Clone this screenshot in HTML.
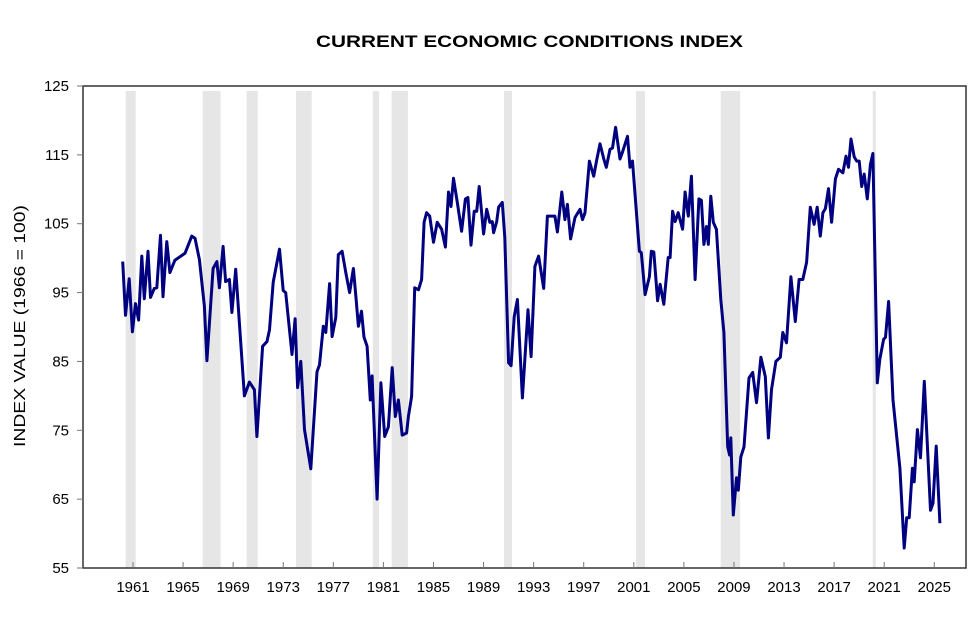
<!DOCTYPE html>
<html><head><meta charset="utf-8"><style>
body{margin:0;background:#fff;width:978px;height:616px;overflow:hidden;font-family:"Liberation Sans",Arial,sans-serif}
</style></head><body>
<svg id="chart" width="978" height="616" xmlns="http://www.w3.org/2000/svg" font-family="Liberation Sans, Arial, sans-serif">
<text x="529.5" y="47" text-anchor="middle" font-size="17" font-weight="bold" textLength="427" lengthAdjust="spacingAndGlyphs">CURRENT ECONOMIC CONDITIONS INDEX</text>
<text transform="translate(25,326) rotate(-90)" text-anchor="middle" font-size="16" textLength="242" lengthAdjust="spacingAndGlyphs">INDEX VALUE (1966 = 100)</text>
<g id="bands"></g><g id="axes"></g><g id="series"></g>
</svg>
<script>
const recStart=[1960.42,1966.57,1970.08,1974.02,1980.15,1981.66,1990.63,2001.18,2007.94,2020.08];
const recEnd=[1961.22,1968.0,1970.96,1975.27,1980.65,1982.96,1991.27,2001.9,2009.5,2020.34];
const yTicks=[55,65,75,85,95,105,115,125];
const xTickYears=[1961,1965,1969,1973,1977,1981,1985,1989,1993,1997,2001,2005,2009,2013,2017,2021,2025];
const years=[1960.18,1960.4,1960.7,1960.95,1961.2,1961.45,1961.7,1961.9,1962.2,1962.4,1962.7,1962.9,1963.2,1963.4,1963.7,1963.95,1964.35,1965.15,1965.7,1965.95,1966.3,1966.7,1966.9,1967.4,1967.7,1967.9,1968.2,1968.4,1968.7,1968.9,1969.2,1969.9,1970.3,1970.7,1970.9,1971.35,1971.7,1971.9,1972.2,1972.7,1973.0,1973.2,1973.7,1973.95,1974.15,1974.4,1974.7,1975.2,1975.7,1975.9,1976.2,1976.4,1976.7,1976.9,1977.2,1977.4,1977.7,1978.0,1978.3,1978.6,1978.8,1979.0,1979.25,1979.45,1979.7,1979.95,1980.1,1980.5,1980.8,1981.1,1981.4,1981.7,1981.95,1982.2,1982.5,1982.85,1983.0,1983.25,1983.5,1983.8,1984.05,1984.25,1984.45,1984.7,1985.0,1985.3,1985.65,1985.95,1986.2,1986.4,1986.6,1986.9,1987.25,1987.55,1987.75,1988.0,1988.25,1988.45,1988.65,1989.0,1989.25,1989.5,1989.7,1989.8,1990.05,1990.2,1990.5,1990.7,1991.0,1991.2,1991.45,1991.7,1992.1,1992.55,1992.8,1993.1,1993.4,1993.8,1994.1,1994.4,1994.7,1994.9,1995.25,1995.5,1995.7,1995.95,1996.3,1996.7,1996.9,1997.1,1997.45,1997.8,1998.05,1998.3,1998.6,1998.8,1999.1,1999.3,1999.55,1999.9,2000.1,2000.5,2000.7,2000.9,2001.45,2001.6,2001.9,2002.25,2002.4,2002.6,2002.9,2003.1,2003.4,2003.75,2003.9,2004.1,2004.3,2004.55,2004.9,2005.1,2005.35,2005.6,2005.9,2006.2,2006.4,2006.6,2006.8,2006.95,2007.15,2007.35,2007.6,2007.95,2008.2,2008.5,2008.65,2008.75,2008.95,2009.2,2009.35,2009.55,2009.8,2010.2,2010.5,2010.8,2011.15,2011.5,2011.75,2012.0,2012.35,2012.7,2012.9,2013.2,2013.55,2013.9,2014.2,2014.5,2014.8,2015.1,2015.4,2015.65,2015.9,2016.1,2016.3,2016.55,2016.8,2017.1,2017.35,2017.7,2017.95,2018.15,2018.35,2018.6,2018.8,2019.0,2019.2,2019.4,2019.65,2019.9,2020.1,2020.45,2020.65,2020.95,2021.1,2021.35,2021.7,2022.25,2022.6,2022.8,2023.0,2023.25,2023.4,2023.65,2023.9,2024.2,2024.7,2024.9,2025.15,2025.45];
const values=[99.5,91.7,97.0,89.3,93.4,91.0,100.3,94.1,101.0,94.3,95.6,95.7,103.3,94.4,102.4,97.9,99.7,100.7,103.2,102.9,99.8,93.0,85.1,98.5,99.5,95.7,101.7,96.6,96.9,92.1,98.4,80.0,82.0,80.9,74.1,87.2,87.9,89.6,96.5,101.3,95.3,95.0,86.0,91.2,81.2,85.0,75.1,69.4,83.5,84.5,90.1,89.2,96.3,88.6,91.4,100.5,101.0,97.9,95.0,98.5,94.4,90.1,92.3,88.5,87.2,79.4,82.9,65.0,81.9,74.1,75.5,84.1,77.0,79.4,74.3,74.6,77.0,79.9,95.7,95.4,96.9,105.2,106.6,106.1,102.3,105.2,104.2,101.6,109.6,107.5,111.6,108.1,103.9,108.6,108.8,101.9,106.8,106.8,110.4,103.5,107.1,105.2,105.3,103.7,105.3,107.4,108.1,103.0,84.8,84.4,91.5,94.0,79.7,92.5,85.7,98.8,100.3,95.6,106.1,106.1,106.1,103.8,109.6,105.6,107.8,102.8,105.9,107.1,105.6,106.6,114.1,111.9,114.4,116.6,114.4,113.2,115.8,116.0,119.0,114.4,115.4,117.7,113.2,114.1,101.0,100.8,94.7,97.3,101.0,100.9,93.8,96.2,93.3,100.1,100.1,106.8,105.3,106.6,104.2,109.6,106.1,111.9,96.9,108.6,108.4,102.0,104.6,102.0,109.0,105.2,104.2,94.0,89.2,72.6,71.4,73.9,62.7,68.1,66.3,71.1,72.6,82.6,83.4,79.0,85.6,82.8,73.9,80.9,85.0,85.6,89.2,87.7,97.3,90.8,96.9,96.9,99.4,107.4,104.9,107.4,103.2,106.6,107.2,110.1,105.2,111.5,112.9,112.4,114.8,113.2,117.3,114.7,114.1,114.1,110.4,112.2,108.6,113.6,115.2,81.9,85.3,88.2,88.5,93.7,79.4,69.5,57.9,62.3,62.3,69.5,67.5,75.1,71.0,82.1,63.4,64.4,72.7,61.5];
const L=83,R=966,T=86,B=568;
function xs(yr){return 133+(yr-1961)*12.52;}
function ys(v){return B-(v-55)*(B-T)/70;}
const NS="http://www.w3.org/2000/svg";
function mk(tag,attrs,parent){const e=document.createElementNS(NS,tag);for(const k in attrs)e.setAttribute(k,attrs[k]);parent.appendChild(e);return e;}
const bands=document.getElementById('bands'),axes=document.getElementById('axes'),series=document.getElementById('series');
recStart.forEach((s,i)=>{
  const r=mk('rect',{x:xs(s),y:91,width:Math.max(2,xs(recEnd[i])-xs(s)),height:B-91,fill:'#e6e6e6'},bands);
  
  
});
const frame=mk('rect',{x:L,y:T,width:R-L,height:B-T,fill:'none',stroke:'#333','stroke-width':1.5},axes);


yTicks.forEach(v=>{
  mk('line',{x1:L-6,x2:L,y1:ys(v),y2:ys(v),stroke:'#777','stroke-width':1},axes);
  const t=mk('text',{x:L-14,y:ys(v)+5,'text-anchor':'end','font-size':15,fill:'#000'},axes);
  t.textContent=v;
  
  
});
xTickYears.forEach(yr=>{
  mk('line',{x1:xs(yr),x2:xs(yr),y1:B-6,y2:B,stroke:'#777','stroke-width':1},axes);
  const t=mk('text',{x:xs(yr),y:B+24,'text-anchor':'middle','font-size':15,fill:'#000'},axes);
  t.textContent=yr;
  
  
});
const d=years.map((y,i)=>(i?'L':'M')+xs(y).toFixed(1)+','+ys(values[i]).toFixed(1)).join('');
const p=mk('path',{d:d,fill:'none',stroke:'#000080','stroke-width':3,'stroke-linejoin':'round'},series);


</script>
</body></html>
